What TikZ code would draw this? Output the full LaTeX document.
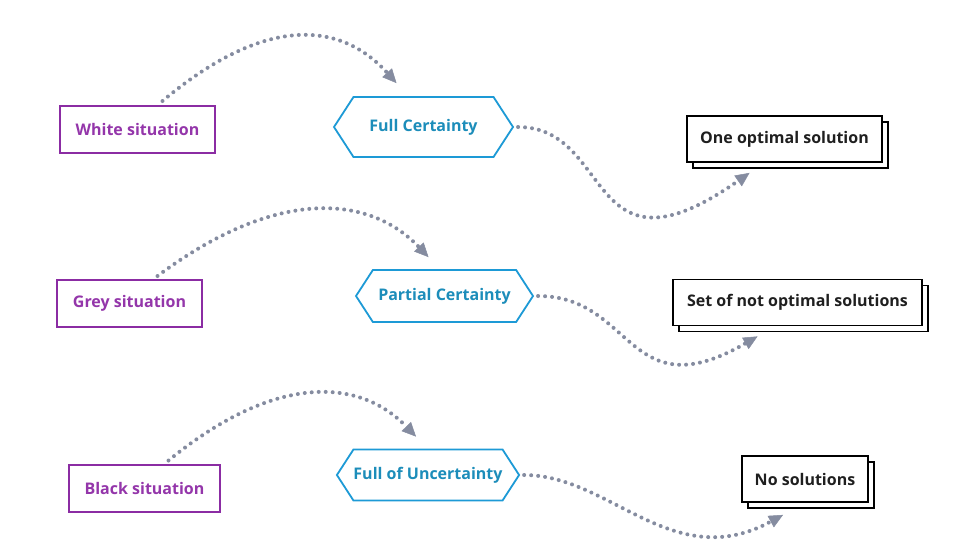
\documentclass[tikz,border=0pt]{standalone}
\usepackage{fontspec}
\setmainfont{Open Sans}
\usetikzlibrary{arrows.meta,calc,shapes.symbols,shadows}

\definecolor{sitpurple}{HTML}{8B2CA3}
\definecolor{sittext}{HTML}{9436AA}
\definecolor{certblue}{HTML}{1D9AD6}
\definecolor{certtext}{HTML}{1C8DBA}
\definecolor{flowgrey}{HTML}{858CA0}

\begin{document}
\begin{tikzpicture}[x=1pt, y=-1pt,
    every node/.style={font=\fontsize{16}{19}\selectfont\bfseries},
    sit/.style={draw=sitpurple, line width=2pt, text=sittext, minimum height=47pt, inner sep=0pt},
    cert/.style={signal, signal to=east and west, signal pointer angle=114, draw=certblue,
      line width=1.8pt, text=certtext, inner sep=0pt},
    res/.style={draw=black, line width=1.8pt, fill=white, text=black!88, minimum height=46pt, inner sep=0pt,
      copy shadow={shadow xshift=6pt, shadow yshift=-6pt, draw=black, fill=white, line width=1.8pt}},
    flow/.style={draw=flowgrey, line width=4pt, line cap=round, dash pattern=on 0pt off 7pt,
      -{Triangle[length=14pt,width=13pt,line width=0.5pt]}}
  ]
    \useasboundingbox (0,0) rectangle (972,550);
    \fill[white] (0,0) rectangle (972,550);

    % Situations
    \node[sit, minimum width=155pt] (ws) at (137.5,129.5) {White situation};
    \node[sit, minimum width=145pt] (gs) at (129.5,303.5) {Grey situation};
    \node[sit, minimum width=151pt] (bs) at (144.5,488) {Black situation};

    % Certainty
    \node[cert, minimum width=179pt, minimum height=60pt] (fc) at (423.5,127) {Full Certainty};
    \node[cert, minimum width=177pt, minimum height=52pt] (pc) at (444.5,296) {Partial Certainty};
    \node[cert, minimum width=172pt, minimum height=51pt] (fu) at (428,475) {Full of Uncertainty};

    % Solutions
    \node[res, minimum width=195pt] (os) at (784.5,139) {One optimal solution};
    \node[res, minimum width=249pt] (sn) at (797.5,302.5) {Set of not optimal solutions};
    \node[res, minimum width=126pt] (ns) at (805,479) {No solutions};

    % arrow ends
    \coordinate (ws-a) at ($(ws.north)+(25,-4)$);
    \coordinate (gs-a) at ($(gs.north)+(28,-3)$);
    \coordinate (bs-a) at ($(bs.north)+(24,-3)$);
    \coordinate (fc-a) at ($(fc.north)+(-27,-13)$);
    \coordinate (pc-a) at ($(pc.north)+(-16,-12)$);
    \coordinate (fu-a) at ($(fu.north)+(-12,-12)$);
    \coordinate (os-a) at ($(os.south)+(-35,10)$);
    \coordinate (sn-a) at ($(sn.south)+(-40,10)$);
    \coordinate (ns-a) at ($(ns.south)+(-22,12)$);

    % Situation -> certainty
    \draw[flow] (ws-a) .. controls +(100,-84) and +(-58,-64) .. (fc-a);
    \draw[flow] (gs-a) .. controls +(115,-86) and +(-62,-65) .. (pc-a);
    \draw[flow] (bs-a) .. controls +(105,-86) and +(-58,-60) .. (fu-a);

    % certainty -> solutions
    \draw[flow, shorten <=4pt] (fc.east) .. controls +(100,0) and +(-164,115) .. (os-a);
    \draw[flow, shorten <=4pt] (pc.east) .. controls +(100,0) and +(-130,75) .. (sn-a);
    \draw[flow, shorten <=4pt] (fu.east) .. controls +(90,0) and +(-110,60) .. (ns-a);
  \end{tikzpicture}
\end{document}
